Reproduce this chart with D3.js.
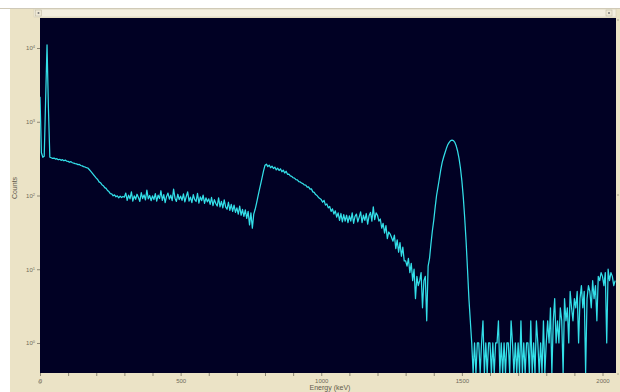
<!DOCTYPE html>
<html><head><meta charset="utf-8">
<script src="https://cdn.jsdelivr.net/npm/d3@7"></script>
<style>html,body{margin:0;padding:0;background:#fff;overflow:hidden}</style>
</head><body><svg id="c" width="620" height="392"></svg>
<script>
// ---- data ----
const channelStartKeV = 0;
const channelStepKeV = 5;
const counts = [
  2180, 380, 330, 340, 2000, 11000, 1500, 330, 325, 318, 322, 312, 316, 305, 310, 300, 306, 296, 302, 292,
  290, 282, 288, 278, 275, 270, 268, 262, 264, 255, 252, 246, 244, 238, 236, 225, 214, 203, 192, 182,
  172, 165, 153, 149, 140, 136, 128, 125, 117, 113, 106, 105, 99, 102, 96, 99, 93, 98, 94, 97,
  95, 108, 86, 101, 90, 112, 84, 99, 89, 104, 94, 83, 109, 91, 102, 87, 118, 90, 100, 85,
  99, 88, 106, 84, 101, 91, 116, 86, 103, 80, 97, 108, 89, 101, 85, 122, 92, 83, 104, 88,
  98, 86, 105, 82, 97, 112, 84, 95, 80, 103, 88, 83, 107, 79, 96, 85, 101, 78, 93, 82,
  90, 76, 94, 73, 88, 78, 72, 93, 70, 83, 68, 87, 70, 65, 81, 63, 76, 61, 74, 59,
  68, 56, 72, 54, 65, 52, 64, 49, 61, 40, 58, 36, 56, 65, 79, 97, 119, 145, 178, 218,
  257, 266, 246, 258, 238, 250, 232, 243, 222, 235, 218, 230, 210, 221, 202, 213, 194, 195, 184, 182,
  174, 172, 164, 163, 154, 153, 148, 145, 139, 138, 130, 131, 122, 123, 112, 110, 103, 100, 94, 91,
  88, 81, 86, 74, 77, 68, 71, 61, 66, 56, 62, 51, 58, 46, 57, 44, 55, 45, 54, 43,
  53, 45, 58, 42, 52, 56, 44, 51, 60, 43, 54, 46, 57, 41, 53, 59, 45, 70, 47, 58,
  54, 45, 48, 36, 42, 31, 39, 26, 32, 30, 27, 24, 29, 19, 25, 17, 23, 15, 20, 13,
  13, 11, 14, 9, 12, 7, 10, 4, 8, 6, 7, 9, 3, 7, 8, 2, 11, 14, 22, 33,
  46, 69, 100, 130, 170, 224, 282, 330, 380, 436, 490, 525, 555, 562, 555, 525, 468, 398, 316, 234,
  158, 95, 50, 24, 10, 4, 2, 1, 0, 1, 0, 1, 1, 0, 1, 2, 0, 1, 0, 1,
  1, 0, 1, 0, 1, 1, 2, 0, 1, 0, 1, 0, 1, 1, 0, 2, 1, 0, 1, 0,
  1, 0, 2, 0, 1, 0, 1, 1, 0, 2, 0, 1, 0, 2, 1, 0, 1, 0, 2, 0,
  1, 2, 1, 3, 0, 2, 4, 1, 2, 1, 3, 2, 0, 4, 2, 3, 1, 5, 3, 2,
  4, 3, 5, 1, 4, 6, 3, 5, 0, 4, 6, 5, 3, 7, 4, 6, 2, 8, 7, 9,
  8, 6, 9, 1, 10, 7, 9, 8, 6, 7
];
const xTickValues = d3.range(0, 2001, 100);
const xTickLabels = {0: "0", 500: "500", 1000: "1000", 1500: "1500", 2000: "2000"};
const yTickValues = [1, 10, 100, 1000, 10000];
const yTickExponents = ["0", "1", "2", "3", "4"];
const xTitle = "Energy (keV)";
const yTitle = "Counts";

// ---- layout ----
const L = 40, R = 616, T = 18, B = 373;
const svg = d3.select("#c");
svg.append("rect").attr("x", 10).attr("y", 8).attr("width", 610).attr("height", 384).attr("fill", "#ebe3c6");
svg.append("line").attr("x1", 0).attr("x2", 620).attr("y1", 8.5).attr("y2", 8.5).attr("stroke", "#cfc9b8");
// top scroll strip
svg.append("rect").attr("x", 34).attr("y", 9).attr("width", 582).attr("height", 8).attr("fill", "#f3eedf").attr("stroke", "#d4cdb6").attr("stroke-width", 0.6);
svg.append("rect").attr("x", 35.5).attr("y", 10).attr("width", 6).attr("height", 6).attr("fill", "#efe9d6").attr("stroke", "#b9b29c").attr("stroke-width", 0.5);
svg.append("circle").attr("cx", 38.5).attr("cy", 13).attr("r", 1).attr("fill", "#777");
svg.append("rect").attr("x", 606).attr("y", 10).attr("width", 6).attr("height", 6).attr("fill", "#efe9d6").attr("stroke", "#b9b29c").attr("stroke-width", 0.5);
svg.append("circle").attr("cx", 609).attr("cy", 13).attr("r", 1).attr("fill", "#777");

const x = d3.scaleLinear().domain([0, 2048]).range([L, R]);
const y = d3.scaleLog().domain([Math.pow(10, -0.407), Math.pow(10, 4.407)]).range([B, T]).clamp(true);

svg.append("rect").attr("x", L).attr("y", T).attr("width", R - L).attr("height", B - T).attr("fill", "#010124");
svg.append("defs").append("clipPath").attr("id", "clip").append("rect").attr("x", L).attr("y", T).attr("width", R - L).attr("height", B - T);

const line = d3.line()
  .x((d, i) => x(channelStartKeV + i * channelStepKeV))
  .y(d => d > 0 ? y(d) : y(y.domain()[0]));
svg.append("path").datum(counts).attr("clip-path", "url(#clip)")
  .attr("d", line).attr("fill", "none").attr("stroke", "#33dfe8").attr("stroke-width", 1.25).attr("stroke-linejoin", "round");

// x axis
const gx = svg.append("g").attr("transform", `translate(0,${B})`)
  .call(d3.axisBottom(x).tickValues(xTickValues).tickSize(3).tickFormat(d => xTickLabels[d] || ""));
gx.select(".domain").remove();
gx.selectAll("line").attr("stroke", "#8d8774");
gx.selectAll("text").attr("fill", "#6f6a5a").attr("font-size", 6).attr("font-family", "Liberation Sans, Arial, sans-serif").attr("dy", "0.6em");

// y axis
const gy = svg.append("g").attr("transform", `translate(${L},0)`)
  .call(d3.axisLeft(y).tickValues(yTickValues).tickSize(3).tickFormat(() => ""));
gy.select(".domain").remove();
gy.selectAll("line").attr("stroke", "#8d8774");
gy.selectAll(".tick").each(function(d, i) {
  const t = d3.select(this).append("text").attr("x", -5).attr("dy", "0.3em").attr("text-anchor", "end")
    .attr("fill", "#6f6a5a").attr("font-size", 6).attr("font-family", "Liberation Sans, Arial, sans-serif");
  t.append("tspan").text("10");
  t.append("tspan").attr("dy", "-0.5em").attr("font-size", 4).text(yTickExponents[i]);
});

// titles
svg.append("text").attr("transform", "translate(17,188) rotate(-90)").attr("text-anchor", "middle")
  .attr("fill", "#5f5a4c").attr("font-size", 7).attr("font-family", "Liberation Sans, Arial, sans-serif").text(yTitle);
svg.append("text").attr("x", 330).attr("y", 390).attr("text-anchor", "middle")
  .attr("fill", "#5f5a4c").attr("font-size", 7).attr("font-family", "Liberation Sans, Arial, sans-serif").text(xTitle);

// right-edge marks
[20, 195, 374].forEach(v => svg.append("line").attr("x1", 617).attr("x2", 619).attr("y1", v).attr("y2", v).attr("stroke", "#9a937e").attr("stroke-width", 0.8));
svg.append("circle").attr("cx", 40).attr("cy", 382).attr("r", 1.5).attr("fill", "none").attr("stroke", "#9a937e").attr("stroke-width", 0.6);
</script></body></html>
